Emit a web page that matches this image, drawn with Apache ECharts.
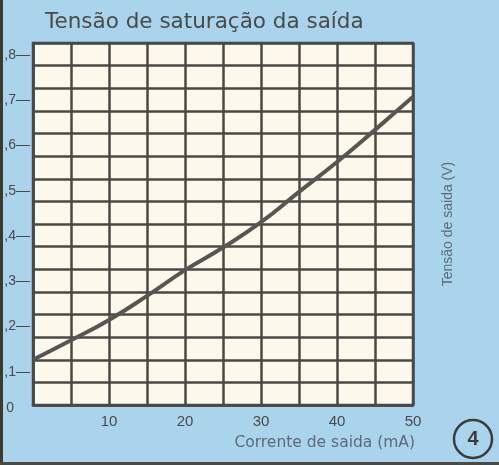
<!DOCTYPE html>
<html><head><meta charset="utf-8">
<script src="https://cdn.jsdelivr.net/npm/echarts@6/dist/echarts.min.js"></script>
<style>html,body{margin:0;padding:0;background:#aad4ec;} #c{width:499px;height:465px;}</style>
</head><body><div id="c"></div>
<script>
// Data
const currentMA = [0, 5, 10, 15, 20, 25, 30, 35, 40, 45, 50];
const voltageV  = [0.100, 0.143, 0.188, 0.241, 0.298, 0.348, 0.404, 0.471, 0.537, 0.608, 0.681];
const yTickLabels = ['0', ',1', ',2', ',3', ',4', ',5', ',6', ',7', ',8'];
const xTickLabels = ['', '10', '20', '30', '40', '50'];
const titleText = 'Tensão de saturação da saída';
const xName = 'Corrente de saida (mA)';
const yName = 'Tensão de saida (V)';

const ink = '#4b4945';
const txt = '#4a4a4a';
const nameCol = '#5b6b78';
const font = 'Liberation Sans, Arial, sans-serif';
const wide = 'DejaVu Sans, sans-serif';

const chart = echarts.init(document.getElementById('c'), null, {renderer: 'canvas'});
chart.setOption({
  backgroundColor: '#aad4ec',
  animation: false,
  title: {
    text: titleText, left: 40, top: 6,
    textStyle: {fontFamily: wide, fontSize: 21.5, fontWeight: 'normal', color: txt}
  },
  grid: {
    left: 33, right: 86, top: 43, bottom: 60,
    show: true, backgroundColor: '#fcf9ec', borderColor: ink, borderWidth: 2.5
  },
  xAxis: {
    type: 'value', min: 0, max: 50, interval: 5,
    name: xName, nameLocation: 'end', nameGap: 2,
    nameTextStyle: {fontFamily: wide, fontSize: 15.5, color: nameCol, align: 'right', verticalAlign: 'top', padding: [30, 0, 0, 0]},
    axisLine: {show: true, lineStyle: {color: ink, width: 2.5}},
    axisTick: {show: false},
    splitLine: {show: true, lineStyle: {color: ink, width: 2.5}},
    axisLabel: {
      margin: 9, fontFamily: font, fontSize: 15, color: txt,
      formatter: v => (Math.round(v) % 10 === 0) ? xTickLabels[Math.round(v) / 10] : ''
    }
  },
  yAxis: [{
    type: 'value', min: 0, max: 0.8, interval: 0.05, position: 'left',
    axisLine: {show: true, lineStyle: {color: ink, width: 2.5}},
    axisTick: {show: false},
    splitLine: {show: true, lineStyle: {color: ink, width: 2.5}},
    axisLabel: {
      margin: 3, fontFamily: font, fontSize: 14, color: txt,
      formatter: v => {
        const i = Math.round(v * 20);
        if (i % 2) return '';
        const k = i / 2;
        return k === 0 ? '{z|' + yTickLabels[0] + '}' : '{t|' + yTickLabels[k] + '—}';
      },
      rich: {
        t: {fontFamily: font, fontSize: 14, color: txt, padding: [24, 0, 0, 0]},
        z: {fontFamily: font, fontSize: 14, color: txt, padding: [6, 16, 0, 0]}
      }
    }
  }, {
    type: 'value', min: 0, max: 0.8, interval: 0.05, position: 'right',
    name: yName, nameLocation: 'middle', nameGap: 28, nameRotate: 90,
    nameTextStyle: {fontFamily: font, fontSize: 14, color: nameCol},
    axisLine: {show: false}, axisTick: {show: false}, axisLabel: {show: false}, splitLine: {show: false}
  }],
  series: [{
    type: 'line', smooth: true, symbol: 'none',
    data: currentMA.map((x, i) => [x, voltageV[i]]),
    lineStyle: {color: '#575652', width: 4}
  }],
  graphic: [
    {type: 'rect', left: 0, top: 0, shape: {width: 3, height: 465}, style: {fill: '#3d3a2c'}},
    {type: 'rect', left: 0, top: 462, shape: {width: 499, height: 3}, style: {fill: '#4a4a44'}},
    {type: 'circle', shape: {cx: 473, cy: 439, r: 19}, style: {fill: 'none', stroke: '#3c3c3c', lineWidth: 2.5}},
    {type: 'text', x: 473, y: 439, style: {text: '4', fontFamily: font, fontSize: 20, fontWeight: 'bold', fill: '#3c3c3c', align: 'center', verticalAlign: 'middle'}}
  ]
});
</script></body></html>
